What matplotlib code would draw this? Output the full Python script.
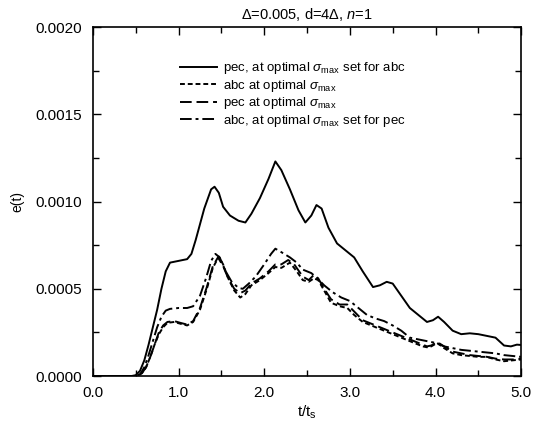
import matplotlib
matplotlib.use("Agg")
import matplotlib.pyplot as plt
from matplotlib.ticker import MultipleLocator, FormatStrFormatter

plt.rcParams['font.family'] = ['Liberation Sans', 'DejaVu Sans']
plt.rcParams['mathtext.fontset'] = 'custom'
plt.rcParams['mathtext.rm'] = 'Liberation Sans'
plt.rcParams['mathtext.it'] = 'Liberation Sans:italic'

# pec, at optimal sigma_max set for abc (solid)
t_pec_abc = [0, 0.45, 0.5, 0.55, 0.6, 0.65, 0.7, 0.75, 0.8, 0.85, 0.9, 1.0, 1.1, 1.15, 1.2, 1.3,
             1.38, 1.42, 1.47, 1.52, 1.6, 1.7, 1.78, 1.85, 1.95, 2.05, 2.13, 2.2, 2.3, 2.4, 2.48,
             2.55, 2.61, 2.67, 2.75, 2.85, 2.95, 3.05, 3.15, 3.27, 3.35, 3.43, 3.5, 3.6, 3.7, 3.8,
             3.9, 3.97, 4.03, 4.1, 4.2, 4.3, 4.4, 4.5, 4.6, 4.7, 4.8, 4.88, 4.95, 5.0]
e_pec_abc = [0, 0, 0.05, 0.3, 0.9, 1.8, 2.8, 3.8, 5.0, 6.0, 6.5, 6.6, 6.7, 7.0, 7.8, 9.6,
             10.7, 10.85, 10.5, 9.7, 9.2, 8.9, 8.8, 9.3, 10.2, 11.3, 12.3, 11.8, 10.7, 9.5, 8.8,
             9.2, 9.8, 9.6, 8.5, 7.6, 7.2, 6.8, 6.0, 5.1, 5.2, 5.4, 5.3, 4.6, 3.9, 3.5,
             3.1, 3.2, 3.4, 3.1, 2.6, 2.4, 2.45, 2.4, 2.3, 2.2, 1.75, 1.7, 1.8, 1.78]

# abc at optimal sigma_max (short dash)
t_abc_opt = [0, 0.52, 0.57, 0.62, 0.67, 0.72, 0.77, 0.82, 0.87, 0.95, 1.02, 1.1, 1.17, 1.25, 1.33,
             1.4, 1.47, 1.52, 1.58, 1.65, 1.72, 1.78, 1.85, 1.95, 2.05, 2.13, 2.2, 2.3, 2.38, 2.45,
             2.52, 2.58, 2.63, 2.7, 2.78, 2.88, 2.97, 3.05, 3.15, 3.25, 3.35, 3.45, 3.55, 3.65,
             3.75, 3.85, 3.9, 3.95, 4.02, 4.1, 4.2, 4.3, 4.4, 4.5, 4.6, 4.7, 4.8, 4.9, 5.0]
e_abc_opt = [0, 0, 0.15, 0.5, 1.1, 1.8, 2.4, 2.8, 3.05, 3.1, 3.0, 2.9, 3.1, 3.8, 5.0,
             6.2, 6.85, 6.4, 5.6, 4.9, 4.5, 4.7, 5.2, 5.5, 5.9, 6.25, 6.2, 6.5, 6.0, 5.5,
             5.4, 5.6, 5.5, 4.9, 4.2, 4.0, 3.9, 3.5, 3.1, 2.9, 2.7, 2.5, 2.3, 2.1,
             1.9, 1.7, 1.65, 1.7, 1.9, 1.6, 1.3, 1.2, 1.15, 1.1, 1.1, 0.95, 0.85, 0.9, 0.95]

# pec at optimal sigma_max (long dash)
t_pec_opt = [0, 0.52, 0.57, 0.62, 0.67, 0.72, 0.77, 0.82, 0.87, 0.95, 1.02, 1.1, 1.17, 1.25, 1.33,
             1.4, 1.46, 1.52, 1.58, 1.65, 1.72, 1.78, 1.85, 1.95, 2.05, 2.13, 2.2, 2.28, 2.35, 2.45,
             2.52, 2.58, 2.63, 2.7, 2.78, 2.88, 2.97, 3.05, 3.15, 3.25, 3.35, 3.45, 3.55, 3.65,
             3.75, 3.85, 3.9, 3.95, 4.02, 4.1, 4.2, 4.3, 4.4, 4.5, 4.6, 4.7, 4.8, 4.9, 5.0]
e_pec_opt = [0, 0, 0.15, 0.5, 1.1, 1.8, 2.5, 2.9, 3.1, 3.15, 3.05, 2.95, 3.15, 3.9, 5.1,
             6.3, 6.8, 6.3, 5.6, 5.0, 4.75, 4.9, 5.3, 5.6, 6.0, 6.4, 6.4, 6.65, 6.4, 5.7,
             5.5, 5.8, 5.6, 5.0, 4.4, 4.1, 4.1, 3.7, 3.2, 3.0, 2.8, 2.6, 2.4, 2.2,
             2.0, 1.8, 1.7, 1.75, 1.95, 1.7, 1.4, 1.3, 1.2, 1.15, 1.1, 1.0, 0.95, 0.95, 1.0]

# abc, at optimal sigma_max set for pec (dash-dot)
t_abc_pec = [0, 0.5, 0.55, 0.6, 0.65, 0.7, 0.75, 0.8, 0.85, 0.9, 1.0, 1.1, 1.17, 1.25, 1.32,
             1.38, 1.43, 1.48, 1.55, 1.62, 1.7, 1.75, 1.82, 1.9, 2.0, 2.08, 2.13, 2.2, 2.3, 2.38,
             2.45, 2.55, 2.62, 2.7, 2.8, 2.9, 3.0, 3.1, 3.2, 3.3, 3.4, 3.5, 3.6, 3.7, 3.8, 3.9,
             4.0, 4.1, 4.2, 4.3, 4.4, 4.5, 4.6, 4.7, 4.8, 4.9, 5.0]
e_abc_pec = [0, 0, 0.1, 0.5, 1.2, 2.0, 2.8, 3.4, 3.75, 3.85, 3.9, 3.9, 4.0, 4.6, 5.6,
             6.6, 7.0, 6.8, 6.0, 5.4, 5.05, 5.0, 5.3, 5.7, 6.4, 7.0, 7.3, 7.1, 6.8, 6.5,
             6.1, 5.9, 5.6, 5.2, 4.8, 4.5, 4.3, 3.9, 3.5, 3.3, 3.15, 2.9, 2.6, 2.2, 2.1, 2.0,
             1.9, 1.7, 1.6, 1.5, 1.45, 1.4, 1.35, 1.3, 1.2, 1.15, 1.1]

labels = [r'pec, at optimal $\sigma_{\rm max}$ set for abc',
          r'abc at optimal $\sigma_{\rm max}$',
          r'pec at optimal $\sigma_{\rm max}$',
          r'abc, at optimal $\sigma_{\rm max}$ set for pec']

fig = plt.figure(figsize=(5.34, 4.23), dpi=100)
ax = fig.add_axes([0.174, 0.111, 0.802, 0.825])

sc = 1e-4
lw = 1.4
ax.plot(t_pec_abc, [v * sc for v in e_pec_abc], color='black', lw=lw, label=labels[0])
ax.plot(t_abc_opt, [v * sc for v in e_abc_opt], color='black', lw=lw, dashes=(2.5, 1.5), label=labels[1])
ax.plot(t_pec_opt, [v * sc for v in e_pec_opt], color='black', lw=lw, dashes=(6, 2.5), label=labels[2])
ax.plot(t_abc_pec, [v * sc for v in e_abc_pec], color='black', lw=lw, dashes=(6, 2, 1.5, 2), label=labels[3])

ax.set_xlim(0, 5)
ax.set_ylim(0, 0.002)
ax.xaxis.set_major_locator(MultipleLocator(1.0))
ax.xaxis.set_minor_locator(MultipleLocator(0.5))
ax.yaxis.set_major_locator(MultipleLocator(0.0005))
ax.yaxis.set_minor_locator(MultipleLocator(0.00025))
ax.xaxis.set_major_formatter(FormatStrFormatter('%.1f'))
ax.yaxis.set_major_formatter(FormatStrFormatter('%.4f'))
ax.tick_params(which='both', direction='in', top=True, right=True, labelsize=11, width=1)
ax.tick_params(which='major', length=6)
ax.tick_params(axis='y', which='major', pad=8)
ax.tick_params(axis='x', which='major', pad=7)
ax.tick_params(which='minor', length=4)
for s in ax.spines.values():
    s.set_linewidth(1.2)

ax.set_xlabel(r't/t$_{\rm s}$', fontsize=11, labelpad=3)
ax.set_ylabel('e(t)', fontsize=10, labelpad=8)
ax.set_title(r'$\Delta$=0.005, d=4$\Delta$, $n$=1', fontsize=10.5, pad=6)

ax.legend(loc='upper left', bbox_to_anchor=(0.19, 0.92), frameon=False, fontsize=9.5,
          handlelength=2.8, handletextpad=0.5, labelspacing=0.12, borderaxespad=0)

fig.savefig('out.png', dpi=100)
